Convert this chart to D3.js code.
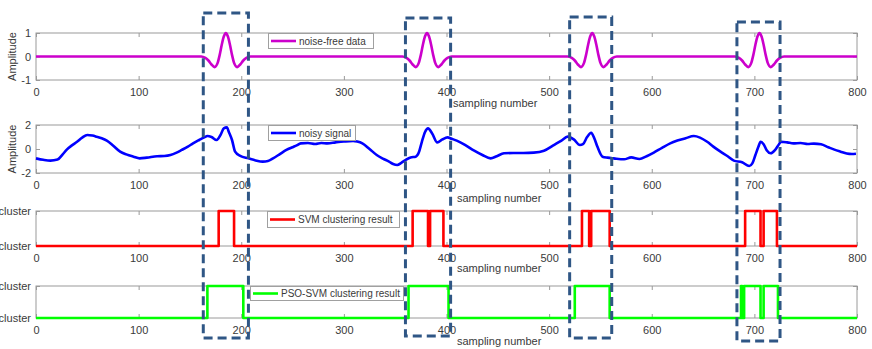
<!DOCTYPE html>
<html>
<head>
<meta charset="utf-8">
<script src="https://cdn.jsdelivr.net/npm/d3@7"></script>
<style>
  body { margin: 0; background: #fff; }
  svg { display: block; font-family: "Liberation Sans", Arial, sans-serif; }
</style>
</head>
<body>
<svg id="chart" width="872" height="349"></svg>
<script>
// --- data ---
const xTicks = [0, 100, 200, 300, 400, 500, 600, 700, 800]

// wavelet shape (offset from centre, amplitude) and where it sits
const waveOffsets = [-24, -20, -17, -14, -11, -8, -6, -4, -2, 0, 2, 4, 6, 8, 11, 14, 17, 20, 24]
const waveValues = [0, -0.06, -0.17, -0.34, -0.45, -0.27, 0.07, 0.5, 0.85, 1, 0.85, 0.5, 0.07, -0.27, -0.45, -0.34, -0.17, -0.06, 0]
const waveCentres = [185, 381, 542, 705]

const noisySignal = [
  [0, -0.78], [7, -0.9], [14, -0.97], [21, -0.88], [26, -0.45], [30, -0.05], [35, 0.3], [40, 0.6],
  [45, 0.95], [50, 1.17], [55, 1.12], [59, 1.03], [64, 0.9], [69, 0.7], [75, 0.3], [82, -0.22],
  [88, -0.45], [95, -0.64], [101, -0.78], [108, -0.72], [118, -0.6], [125, -0.58], [131, -0.5],
  [137, -0.3], [142, -0.08], [148, 0.2], [153, 0.47], [159, 0.75], [164, 0.97], [167, 1.08],
  [171, 1.0], [176, 0.75], [180, 1.2], [183, 1.72], [186, 1.8], [188, 1.4], [191, 0.75],
  [194, -0.22], [199, -0.58], [207, -0.78], [214, -0.95], [221, -1.05], [226, -1.0], [231, -0.78],
  [238, -0.4], [244, -0.08], [250, 0.15], [254, 0.3], [258, 0.47], [265, 0.5], [272, 0.42],
  [278, 0.5], [284, 0.47], [292, 0.55], [300, 0.62], [309, 0.67], [313, 0.62], [318, 0.47],
  [325, 0.0], [332, -0.5], [338, -0.8], [344, -1.05], [348, -1.25], [352, -1.33], [356, -1.15],
  [360, -0.92], [365, -0.7], [370, -0.64], [373, -0.3], [376, 0.6], [379, 1.4], [382, 1.72],
  [386, 1.3], [391, 0.55], [396, 0.8], [401, 0.97], [405, 0.85], [410, 0.7], [418, 0.35],
  [427, -0.14], [435, -0.5], [443, -0.78], [449, -0.6], [456, -0.36], [465, -0.33], [475, -0.33],
  [485, -0.3], [495, -0.14], [505, 0.35], [512, 0.7], [518, 1.03], [524, 0.8], [530, 0.33],
  [533, 0.4], [537, 1.0], [541, 1.35], [544, 0.9], [547, 0.2], [552, -0.64], [557, -0.72],
  [563, -0.78], [573, -0.86], [580, -0.7], [588, -0.83], [595, -0.6], [602, -0.3], [610, 0.1],
  [618, 0.47], [625, 0.7], [633, 0.9], [641, 1.08], [647, 0.95], [654, 0.6], [660, 0.2],
  [667, -0.22], [674, -0.6], [680, -0.97], [688, -1.1], [695, -1.42], [698, -1.2], [701, -0.5],
  [704, 0.2], [706, 0.6], [709, 0.4], [712, -0.1], [716, -0.36], [720, -0.1], [724, 0.4],
  [726, 0.6], [732, 0.55], [738, 0.47], [745, 0.5], [752, 0.42], [758, 0.45], [765, 0.39],
  [772, 0.15], [778, -0.05], [784, -0.22], [790, -0.38], [795, -0.42], [799, -0.4]
]

// cluster label = 1 on these sample intervals
const svmPulses = [[178, 193], [367, 382], [384, 397], [532, 539], [541, 559], [691, 706], [709, 722]]
const psoPulses = [[167, 202], [363, 402], [525, 559], [687, 688], [690, 706], [709, 723]]

// dashed boxes (sample range)
const boxRanges = [[163, 207], [360, 404], [520, 561], [683, 725]]
const boxTops = [13, 18, 17, 22]
const boxBottoms = [338, 336, 338, 341]

const legendLabels = ['noise-free data', 'noisy signal', 'SVM clustering result', 'PSO-SVM clustering result']
const seriesColors = ['#cc00cc', '#0000ff', '#ff0000', '#00ff00']
const yTickValues = [[-1, 0, 1], [-2, 0, 2], [0, 1], [0, 1]]
const yTickLabels = [['-1', '0', '1'], ['-2', '0', '2'], ['cluster', 'cluster'], ['cluster', 'cluster']]
const yLabels = ['Amplitude', 'Amplitude', '', '']
const xLabel = 'sampling number'

// --- build series ---
const noiseFree = [[0, 0]]
waveCentres.forEach(c => waveOffsets.forEach((o, i) => noiseFree.push([c + o, waveValues[i]])))
noiseFree.push([800, 0])

const steps = pulses => {
  const pts = [[0, 0]]
  pulses.forEach(([a, b]) => pts.push([a, 0], [a, 1], [b, 1], [b, 0]))
  pts.push([800, 0])
  return pts
}

const series = [noiseFree, noisySignal, steps(svmPulses), steps(psoPulses)]

// --- layout ---
const panels = [
  { top: 33, bottom: 80, xlab: [453, 107], leg: [268, 33, 105, 15], curve: d3.curveMonotoneX },
  { top: 125, bottom: 173, xlab: [457, 202], leg: [268, 125, 87, 15], curve: d3.curveMonotoneX },
  { top: 211, bottom: 246, xlab: [457, 272], leg: [267, 211, 132, 16], curve: d3.curveLinear },
  { top: 286, bottom: 318, xlab: [457, 345], leg: [250, 286, 153, 14], curve: d3.curveLinear }
]

const svg = d3.select('#chart')
const x = d3.scaleLinear().domain([0, 800]).range([36, 857])
const frameColor = '#9a9a9a'
const textColor = '#3a3a3a'

panels.forEach((p, i) => {
  const ext = d3.extent(yTickValues[i])
  const y = d3.scaleLinear().domain(ext).range([p.bottom, p.top])
  const g = svg.append('g')

  g.append('rect')
    .attr('x', x(0)).attr('y', p.top)
    .attr('width', x(800) - x(0)).attr('height', p.bottom - p.top)
    .attr('fill', '#fff').attr('stroke', frameColor)

  const styleAxis = sel => {
    sel.select('.domain').remove()
    sel.selectAll('line').attr('stroke', frameColor)
    sel.selectAll('text').attr('fill', textColor).style('font-size', '11px')
  }

  g.append('g').attr('transform', `translate(0,${p.bottom})`)
    .call(d3.axisBottom(x).tickValues(xTicks).tickSize(-4).tickPadding(8).tickFormat(d3.format('d')))
    .call(styleAxis)
  g.append('g').attr('transform', `translate(0,${p.top})`)
    .call(d3.axisTop(x).tickValues(xTicks).tickSize(-4).tickFormat(''))
    .call(styleAxis)
  g.append('g').attr('transform', `translate(${x(0)},0)`)
    .call(d3.axisLeft(y).tickValues(yTickValues[i]).tickSize(-4).tickPadding(5)
      .tickFormat((d, k) => yTickLabels[i][k]))
    .call(styleAxis)
  g.append('g').attr('transform', `translate(${x(800)},0)`)
    .call(d3.axisRight(y).tickValues(yTickValues[i]).tickSize(-4).tickFormat(''))
    .call(styleAxis)

  const line = d3.line().x(d => x(d[0])).y(d => y(d[1])).curve(p.curve)
  g.append('path')
    .datum(series[i])
    .attr('d', line)
    .attr('fill', 'none')
    .attr('stroke', seriesColors[i])
    .attr('stroke-width', 2.6)
    .attr('stroke-linejoin', 'round')

  if (yLabels[i]) {
    g.append('text')
      .attr('transform', `translate(16,${(p.top + p.bottom) / 2}) rotate(-90)`)
      .attr('text-anchor', 'middle')
      .attr('fill', textColor)
      .style('font-size', '11px')
      .text(yLabels[i])
  }

  g.append('text')
    .attr('x', p.xlab[0]).attr('y', p.xlab[1])
    .attr('fill', textColor)
    .style('font-size', '11px')
    .text(xLabel)

  // legend
  const [lx, ly, lw, lh] = p.leg
  g.append('rect')
    .attr('x', lx + 0.5).attr('y', ly + 0.5).attr('width', lw).attr('height', lh)
    .attr('fill', '#fff').attr('stroke', '#a0a0a0')
  g.append('line')
    .attr('x1', lx + 3).attr('x2', lx + 28)
    .attr('y1', ly + lh / 2 + 0.5).attr('y2', ly + lh / 2 + 0.5)
    .attr('stroke', seriesColors[i]).attr('stroke-width', 2.6)
  g.append('text')
    .attr('x', lx + 31).attr('y', ly + lh / 2 + 4)
    .attr('fill', textColor)
    .style('font-size', '10px')
    .text(legendLabels[i])
})

// dashed highlight boxes over everything
boxRanges.forEach((r, i) => {
  svg.append('rect')
    .attr('x', x(r[0])).attr('y', boxTops[i])
    .attr('width', x(r[1]) - x(r[0])).attr('height', boxBottoms[i] - boxTops[i])
    .attr('fill', 'none')
    .attr('stroke', '#2f5685')
    .attr('stroke-width', 3)
    .attr('stroke-dasharray', '9,5')
})
</script>
</body>
</html>
